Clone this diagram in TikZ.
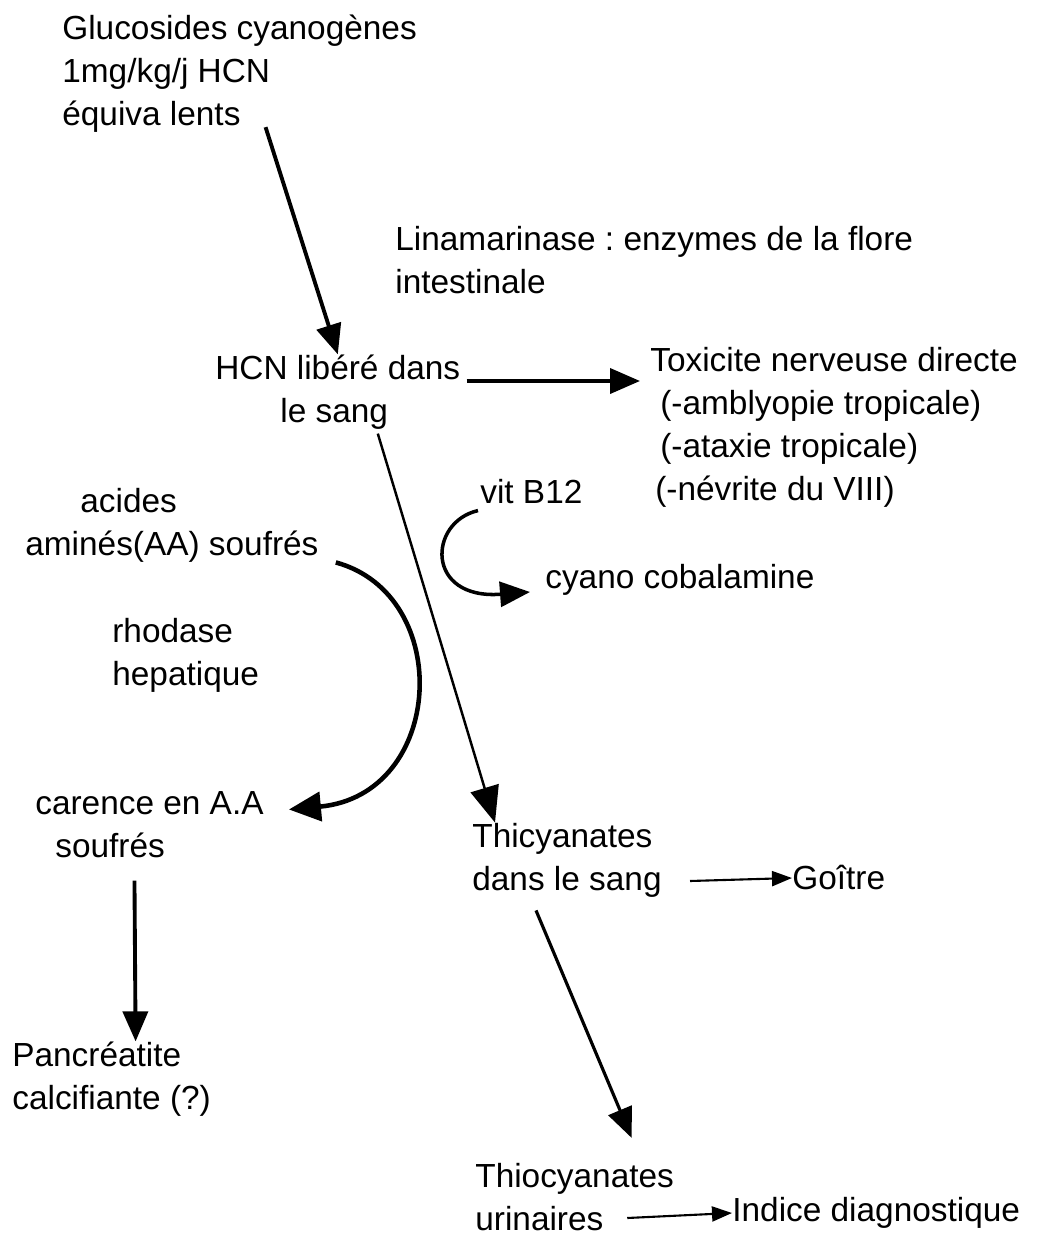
\documentclass[tikz,border=0pt]{standalone}
\usepackage{fontspec}
\setmainfont{Liberation Sans}
\usetikzlibrary{positioning,arrows.meta,calc}

\begin{document}
\begin{tikzpicture}[x=0.02cm, y=-0.02cm,
      lbl/.style={inner sep=0pt, align=left, anchor=west,
      font=\fontsize{19}{24.5}\selectfont\frenchspacing},
      arr/.style={-{Triangle[length=0.6cm, width=0.5cm]}, line width=2.2pt},
      longarr/.style={-{Triangle[length=0.72cm, width=0.58cm]}, line width=1.4pt},
      slimarr/.style={-{Triangle[length=0.4cm, width=0.3cm]}, line width=1.2pt},
      curvearr/.style={-{Triangle[length=0.64cm, width=0.58cm]}, line width=2.6pt},
    ]
    \useasboundingbox (0,0) rectangle (1036,1237);

    % texts
    \node[lbl] (glu) at (62,74) {Glucosides cyanogènes\\1mg/kg/j HCN\\équiva lents};
    \node[lbl] (lina) at (395,260) {Linamarinase : enzymes de la flore\\intestinale};
    \node[lbl] (hcn) at (215,392) {HCN libéré dans\\\hspace*{1.3cm}le sang};
    \node[lbl] (tox) at (650,427) {Toxicite nerveuse directe\\
      \hspace*{0.2cm}(-amblyopie tropicale)\\\hspace*{0.2cm}(-ataxie tropicale)\\
      \hspace*{0.1cm}(-névrite du VIII)};
    \node[lbl] (acides) at (25,525) {\hspace*{1.1cm}acides\\aminés(AA) soufrés};
    \node[lbl] (vit) at (480,492) {vit B12};
    \node[lbl] (cyano) at (545,580) {cyano cobalamine};
    \node[lbl] (rhodase) at (112,655) {rhodase\\hepatique};
    \node[lbl] (carence) at (35,825) {carence en A.A\\\hspace*{0.4cm}soufrés};
    \node[lbl] (panc) at (12,1079) {Pancréatite\\calcifiante (?)};
    \node[lbl] (thic) at (472,860) {Thicyanates\\dans le sang};
    \node[lbl] (goitre) at (792,878) {Goître};
    \node[lbl] (urin) at (475,1197) {Thiocyanates\\urinaires};
    \node[lbl] (indice) at (732,1213) {Indice diagnostique};

    % arrows
    \draw[arr] ($(glu.south)+(26,-6)$) -- (hcn.north);
    \draw[arr] ($(hcn.east)+(6,-11)$) -- ($(tox.west)+(-10,-46)$);
    \draw[longarr] ($(hcn.south)+(40,4)$) -- ($(thic.north west)+(23,0)$);
    \draw[arr, line width=2pt] ($(vit.south west)+(-2,6)$)
      .. controls (428,522) and (425,600) .. ($(cyano.west)+(-15,12)$);
    \draw[curvearr] ($(acides.south east)+(17,0)$)
      .. controls (455,595) and (445,795) .. ($(carence.north east)+(25,18)$);
    \draw[arr] ($(carence.south)+(-15,22)$) -- ($(panc.north)+(24,0)$);
    \draw[slimarr] ($(thic.east)+(28,21)$) -- (goitre.west);
    \draw[arr, line width=1.8pt] ($(thic.south)+(-31,13)$) -- ($(urin.north)+(57,-25)$);
    \draw[slimarr] ($(urin.east)+(-47,21)$) -- (indice.west);
  \end{tikzpicture}
\end{document}
